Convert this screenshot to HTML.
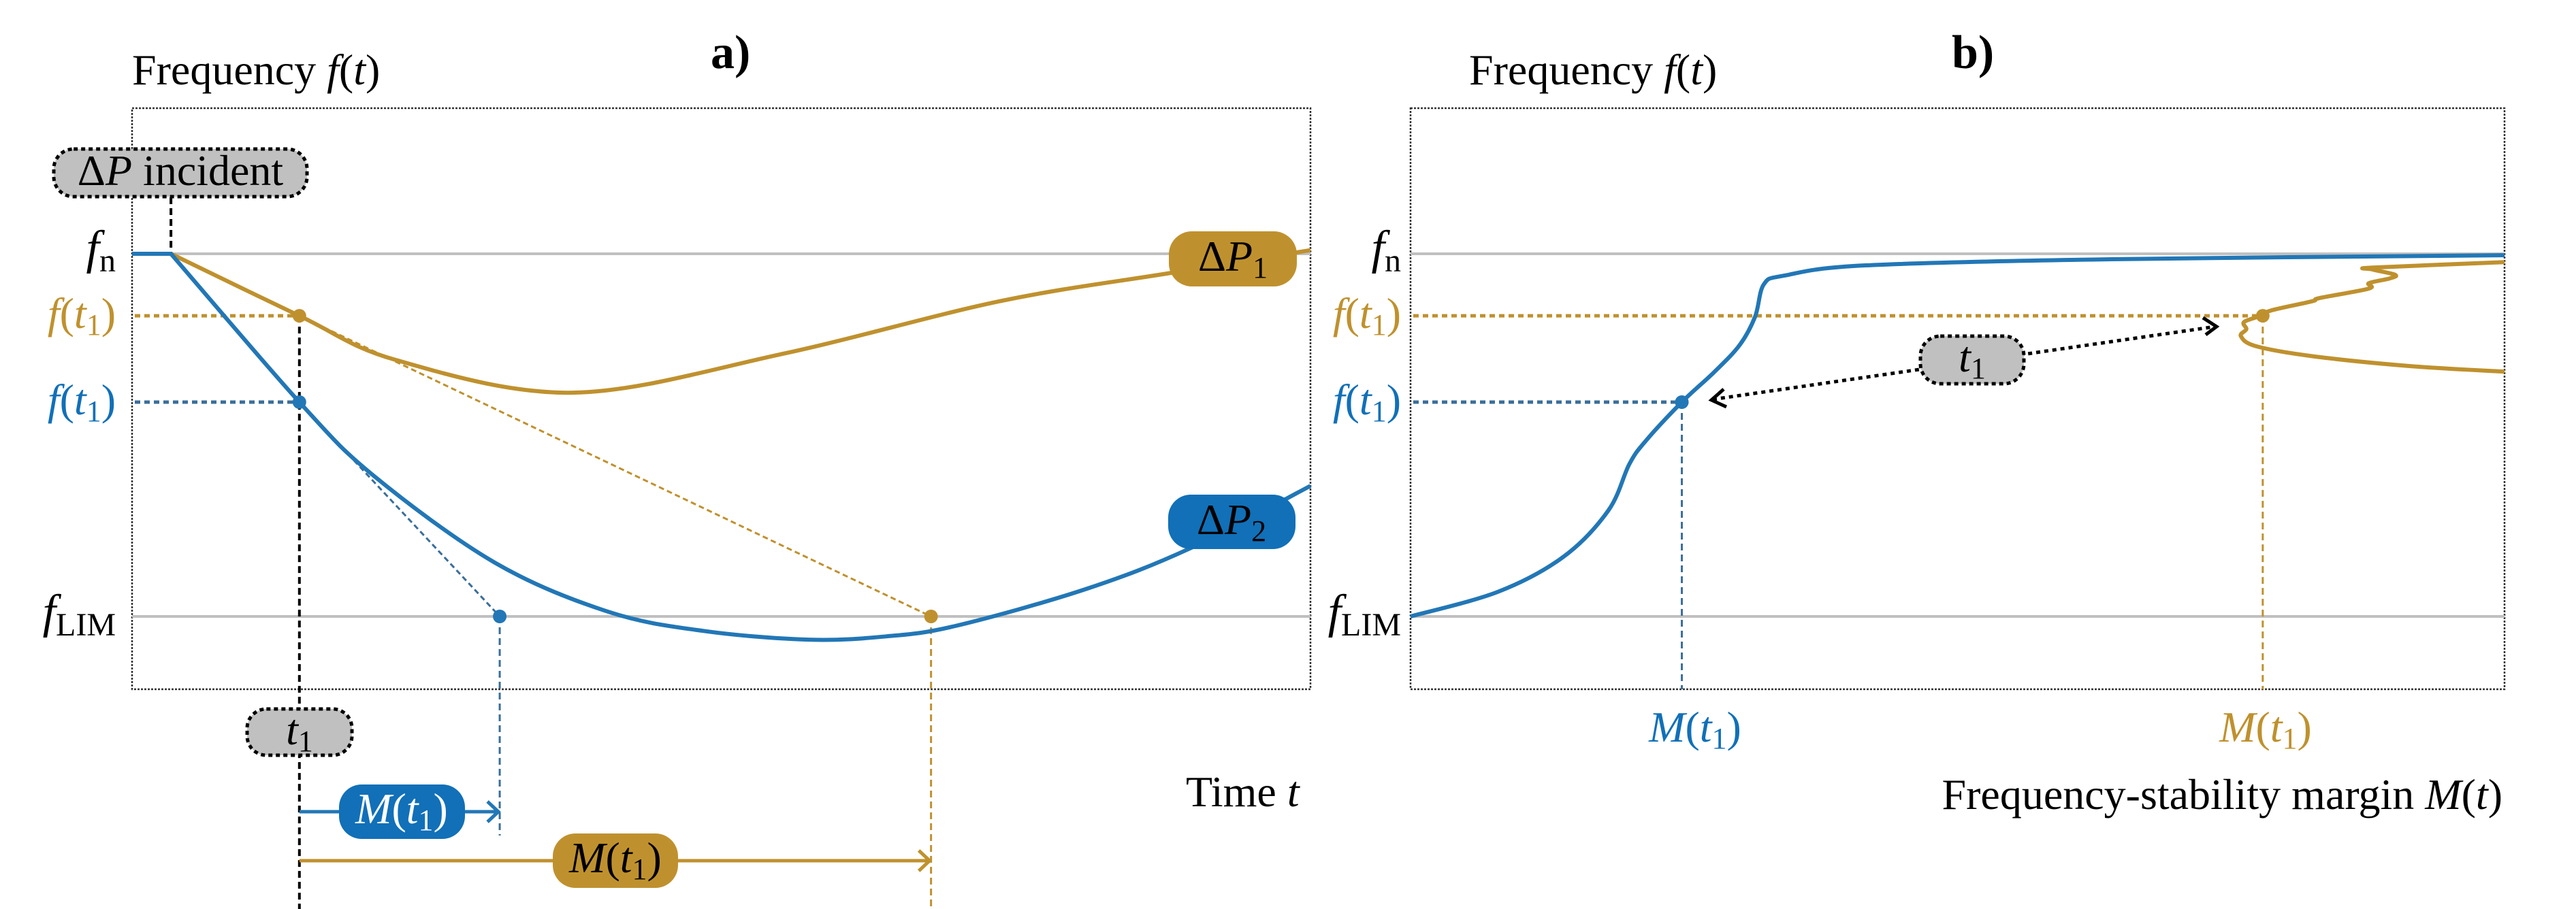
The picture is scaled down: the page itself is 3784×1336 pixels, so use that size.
<!DOCTYPE html>
<html><head><meta charset="utf-8"><style>
html,body{margin:0;padding:0;background:#fff}
svg{display:block}
svg text{font-family:"Liberation Serif","Times New Roman",Times,serif;}
</style></head><body>
<svg id="fig" width="3784" height="1336" viewBox="0 0 3784 1336" xmlns="http://www.w3.org/2000/svg" font-family="Liberation Serif, Times New Roman, serif">
<g id="pa"></g>
<g id="pb"></g>
</svg>
<script>
// ---- data (frequency in normalized Hz units: fn=50, fLIM=49) ----
const fN = 50.0, fLIM = 49.0;
// panel a: time (0..100)
const tBlueA = [0, 3.3, 14.2, 20.5, 30.8, 40.4, 48.5, 57.4, 64.0, 69.9, 80.9, 89.8, 100];
const fBlueA = [50, 50, 49.591, 49.388, 49.148, 49.013, 48.960, 48.936, 48.945, 48.974, 49.075, 49.188, 49.36];
const tGoldA = [3.3, 14.2, 22.4, 37.4, 55.2, 73.6, 88.1, 100];
const fGoldA = [50, 49.829, 49.707, 49.617, 49.724, 49.869, 49.947, 50.01];
const tIncident = 3.3, t1 = 14.2;
const tLimBlue = 31.2, tLimGold = 67.8;
const fT1Gold = 49.829, fT1Blue = 49.591;
// panel b: margin (0..100)
const mBlueB = [0, 8.0, 14.0, 18.1, 20.0, 21.5, 24.8, 27.8, 30.1, 31.5, 32.3, 34.2, 41.6, 64.1, 100];
const fBlueB = [49, 49.068, 49.165, 49.293, 49.420, 49.484, 49.591, 49.675, 49.749, 49.827, 49.916, 49.94, 49.968, 49.985, 49.996];
const mGoldB = [100, 88.0, 87.9, 90.0, 89.5, 87.6, 87.6, 83.1, 82.4, 78.7, 77.9, 76.2, 76.4, 75.9, 77.3, 82.6, 91.5, 100];
const fGoldB = [49.977, 49.962, 49.957, 49.942, 49.932, 49.919, 49.904, 49.878, 49.869, 49.844, 49.831, 49.812, 49.792, 49.773, 49.745, 49.717, 49.690, 49.675];
const mT1Blue = 24.8, mT1Gold = 77.9;

const BLUE='#2277b6', GOLD='#bf912e', BBOX='#1170b8', GRAY='#c0c0c0';
const NS='http://www.w3.org/2000/svg';
const FONT='Liberation Serif, Times New Roman, serif';
const yS = f => 906 - (f - 49) * 533;
const xA = t => 194 + t * 17.31;
const xB = m => 2072 + m * 16.07;

function mk(parent, tag, attrs, txt){
  const e = document.createElementNS(NS, tag);
  for (const k in attrs) e.setAttribute(k, attrs[k]);
  if (txt !== undefined) e.innerHTML = txt;
  parent.appendChild(e);
  return e;
}
function smooth(pts){
  let d='M'+pts[0][0]+','+pts[0][1];
  for(let i=0;i<pts.length-1;i++){
    const p0=pts[Math.max(0,i-1)],p1=pts[i],p2=pts[i+1],p3=pts[Math.min(pts.length-1,i+2)];
    const c1=[p1[0]+(p2[0]-p0[0])/6,p1[1]+(p2[1]-p0[1])/6];
    const c2=[p2[0]-(p3[0]-p1[0])/6,p2[1]-(p3[1]-p1[1])/6];
    d+=' C'+c1+' '+c2+' '+p2;
  }
  return d;
}
function line(g,x1,y1,x2,y2,stroke,w,dash,name){
  const e=mk(g,'line',{x1,y1,x2,y2,stroke,'stroke-width':w});
  if(dash) e.setAttribute('stroke-dasharray',dash);
  
  
  return e;
}
function dot(g,x,y,c,name){
  const e=mk(g,'circle',{cx:x,cy:y,r:10,fill:c});
  
  
}
function label(g,x,y,html,attrs,name){
  const a=Object.assign({x,y,'font-size':64,'font-family':FONT},attrs||{});
  const e=mk(g,'text',a,html);
  
  
  return e;
}
function pill(g,x,y,w,h,fill,stroke,dash,name){
  const e=mk(g,'rect',{x,y,width:w,height:h,rx:h/2.4,fill,stroke:stroke||'none','stroke-width':stroke?5:0});
  if(dash) e.setAttribute('stroke-dasharray',dash);
  
  
}
const ft1 = '<tspan font-style="italic">f</tspan>(<tspan font-style="italic">t</tspan><tspan font-size="44" dy="10">1</tspan><tspan dy="-10">)</tspan>';
const Mt1 = '<tspan font-style="italic">M</tspan>(<tspan font-style="italic">t</tspan><tspan font-size="44" dy="10">1</tspan><tspan dy="-10">)</tspan>';
const fn = '<tspan font-style="italic" font-size="70">f</tspan><tspan font-size="48" dy="12">n</tspan>';
const flim = '<tspan font-style="italic" font-size="70">f</tspan><tspan font-size="48" dy="12">LIM</tspan>';

// ================= Panel A =================
const A=document.getElementById('pa');
label(A,1044,100,'a)',{'font-weight':'bold','font-size':70},'panel-a-title');
label(A,194,124,'Frequency <tspan font-style="italic">f</tspan>(<tspan font-style="italic">t</tspan>)',{},'y-axis-title-a');
label(A,1742,1185,'Time <tspan font-style="italic">t</tspan>',{},'x-axis-title-a');
const fr=mk(A,'rect',{x:194,y:159,width:1731,height:854,fill:'none',stroke:'#333','stroke-width':2.5,'stroke-dasharray':'3 2'});


line(A,194,yS(fN),1925,yS(fN),GRAY,4,null,'fn-line-a');
line(A,194,yS(fLIM),1925,yS(fLIM),GRAY,4,null,'flim-line-a');
label(A,170,yS(fN)+14,fn,{'text-anchor':'end'},'fn-label-a');
label(A,170,yS(fLIM)+16,flim,{'text-anchor':'end'},'flim-label-a');
label(A,170,yS(fT1Gold)+18,ft1,{'text-anchor':'end',fill:GOLD},'f-t1-gold-label-a');
label(A,170,yS(fT1Blue)+18,ft1,{'text-anchor':'end',fill:BBOX},'f-t1-blue-label-a');
line(A,198,yS(fT1Gold),xA(t1),yS(fT1Gold),GOLD,5,'8 6','f-t1-gold-guide');
line(A,198,yS(fT1Blue),xA(t1),yS(fT1Blue),'#3a6e9a',5,'8 6','f-t1-blue-guide');
line(A,xA(t1),yS(fT1Gold),xA(t1),1336,'#000',4,'10 6','t1-vertical');
line(A,xA(tIncident),290,xA(tIncident),yS(fN),'#000',4,'10 6','incident-vertical');
line(A,xA(t1),yS(fT1Blue),xA(tLimBlue),yS(fLIM),'#3a6e9a',3,'8 5','blue-tangent');
line(A,xA(t1),yS(fT1Gold),xA(tLimGold),yS(fLIM),GOLD,3,'8 5','gold-tangent');
line(A,xA(tLimBlue),yS(fLIM),xA(tLimBlue),1228,'#3a6e9a',3,'10 6','blue-limit-vertical');
line(A,xA(tLimGold),yS(fLIM),xA(tLimGold),1336,GOLD,3,'10 6','gold-limit-vertical');
let p=mk(A,'path',{d:smooth(tGoldA.map((t,i)=>[xA(t),yS(fGoldA[i])])),fill:'none',stroke:GOLD,'stroke-width':6});


p=mk(A,'path',{d:'M'+xA(tBlueA[0])+','+yS(fBlueA[0])+' L'+xA(tBlueA[1])+','+yS(fBlueA[1])+' '+smooth(tBlueA.slice(1).map((t,i)=>[xA(t),yS(fBlueA[i+1])])).replace('M',' L'),fill:'none',stroke:BLUE,'stroke-width':6});


dot(A,xA(t1),yS(fT1Gold),GOLD,'dot-gold-t1');
dot(A,xA(t1),yS(fT1Blue),BLUE,'dot-blue-t1');
dot(A,xA(tLimBlue),yS(fLIM),BLUE,'dot-blue-limit');
dot(A,xA(tLimGold),yS(fLIM),GOLD,'dot-gold-limit');
line(A,xA(t1),1193,xA(tLimBlue)-4,1193,BLUE,5,null,'margin-arrow-blue');
mk(A,'path',{d:`M${xA(tLimBlue)-18},1178 L${xA(tLimBlue)-2},1193 L${xA(tLimBlue)-18},1208`,fill:'none',stroke:BLUE,'stroke-width':5});
line(A,xA(t1),1265,xA(tLimGold)-4,1265,GOLD,5,null,'margin-arrow-gold');
mk(A,'path',{d:`M${xA(tLimGold)-18},1250 L${xA(tLimGold)-2},1265 L${xA(tLimGold)-18},1280`,fill:'none',stroke:GOLD,'stroke-width':5});
pill(A,79,219,372,70,GRAY,'#000','6 5','incident-label-box');
label(A,265,272,'Δ<tspan font-style="italic">P</tspan> incident',{'text-anchor':'middle'},'incident-label');
pill(A,363,1042,154,68,GRAY,'#000','6 5','t1-label-box-a');
label(A,440,1094,'<tspan font-style="italic">t</tspan><tspan font-size="44" dy="10">1</tspan>',{'text-anchor':'middle'},'t1-label-a');
pill(A,1717,340,188,81,GOLD,null,null,'dp1-label-box');
label(A,1811,398,'Δ<tspan font-style="italic">P</tspan><tspan font-size="44" dy="10">1</tspan>',{'text-anchor':'middle'},'dp1-label');
pill(A,1716,727,187,80,BBOX,null,null,'dp2-label-box');
label(A,1809,785,'Δ<tspan font-style="italic">P</tspan><tspan font-size="44" dy="10">2</tspan>',{'text-anchor':'middle'},'dp2-label');
pill(A,498,1153,185,80,BBOX,null,null,'margin-blue-box-a');
label(A,590,1210,Mt1,{'text-anchor':'middle',fill:'#fff'},'margin-blue-label-a');
pill(A,812,1225,184,80,GOLD,null,null,'margin-gold-box-a');
label(A,904,1282,Mt1,{'text-anchor':'middle'},'margin-gold-label-a');

// ================= Panel B =================
const B=document.getElementById('pb');
label(B,2867,100,'b)',{'font-weight':'bold','font-size':70},'panel-b-title');
label(B,2158,124,'Frequency <tspan font-style="italic">f</tspan>(<tspan font-style="italic">t</tspan>)',{},'y-axis-title-b');
label(B,3676,1189,'Frequency-stability margin <tspan font-style="italic">M</tspan>(<tspan font-style="italic">t</tspan>)',{'text-anchor':'end'},'x-axis-title-b');
const fr2=mk(B,'rect',{x:2072,y:159,width:1607,height:854,fill:'none',stroke:'#333','stroke-width':2.5,'stroke-dasharray':'3 2'});


line(B,2072,yS(fN),3679,yS(fN),GRAY,4,null,'fn-line-b');
line(B,2072,yS(fLIM),3679,yS(fLIM),GRAY,4,null,'flim-line-b');
label(B,2058,yS(fN)+14,fn,{'text-anchor':'end'},'fn-label-b');
label(B,2058,yS(fLIM)+16,flim,{'text-anchor':'end'},'flim-label-b');
label(B,2058,yS(fT1Gold)+18,ft1,{'text-anchor':'end',fill:GOLD},'f-t1-gold-label-b');
label(B,2058,yS(fT1Blue)+18,ft1,{'text-anchor':'end',fill:BBOX},'f-t1-blue-label-b');
line(B,2076,yS(fT1Gold),xB(mT1Gold),yS(fT1Gold),GOLD,5,'8 6','f-t1-gold-guide-b');
line(B,2076,yS(fT1Blue),xB(mT1Blue),yS(fT1Blue),'#3a6e9a',5,'8 6','f-t1-blue-guide-b');
line(B,xB(mT1Blue),yS(fT1Blue),xB(mT1Blue),1013,'#3a6e9a',3,'10 6','margin-blue-vertical');
line(B,xB(mT1Gold),yS(fT1Gold),xB(mT1Gold),1013,GOLD,3,'10 6','margin-gold-vertical');
p=mk(B,'path',{d:smooth(mBlueB.map((m,i)=>[xB(m),yS(fBlueB[i])])),fill:'none',stroke:BLUE,'stroke-width':6});


p=mk(B,'path',{d:smooth(mGoldB.map((m,i)=>[xB(m),yS(fGoldB[i])])),fill:'none',stroke:GOLD,'stroke-width':6});


dot(B,xB(mT1Blue),yS(fT1Blue),BLUE,'dot-blue-b');
dot(B,xB(mT1Gold),yS(fT1Gold),GOLD,'dot-gold-b');
line(B,2516,587,3254,480,'#000',5,'6 6','t1-double-arrow');
mk(B,'path',{d:'M2532,572 L2514,588 L2536,598',fill:'none',stroke:'#000','stroke-width':5});
mk(B,'path',{d:'M3236,467 L3256,480 L3240,492',fill:'none',stroke:'#000','stroke-width':5});
pill(B,2821,494,152,70,GRAY,'#000','6 5','t1-label-box-b');
label(B,2897,546,'<tspan font-style="italic">t</tspan><tspan font-size="44" dy="10">1</tspan>',{'text-anchor':'middle'},'t1-label-b');
label(B,2490,1090,Mt1,{'text-anchor':'middle',fill:BBOX},'margin-blue-tick-label');
label(B,3328,1090,Mt1,{'text-anchor':'middle',fill:GOLD},'margin-gold-tick-label');
</script>
</body></html>
